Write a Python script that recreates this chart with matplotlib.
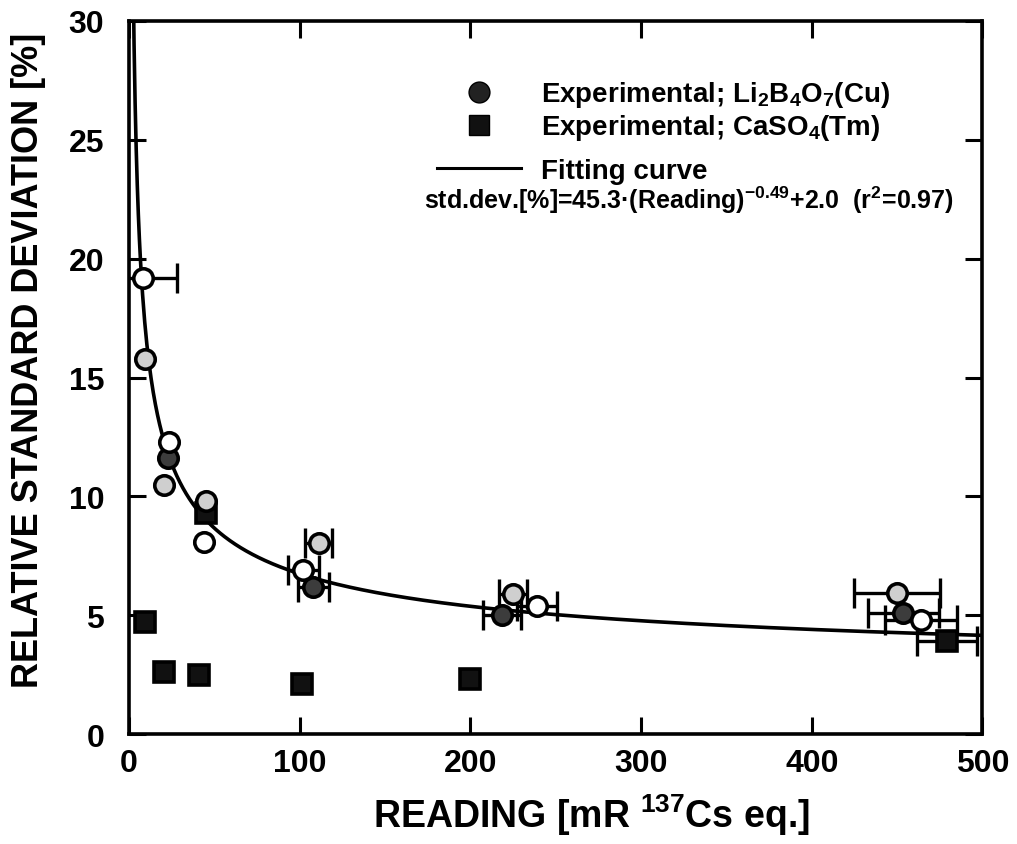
import numpy as np
import matplotlib
matplotlib.use("Agg")
import matplotlib.pyplot as plt
from matplotlib.lines import Line2D

plt.rcParams['font.family'] = ['Liberation Sans', 'DejaVu Sans']
plt.rcParams['font.weight'] = 'bold'
plt.rcParams['mathtext.fontset'] = 'custom'
plt.rcParams['mathtext.rm'] = 'Liberation Sans:bold'
plt.rcParams['mathtext.it'] = 'Liberation Sans:bold'
plt.rcParams['mathtext.bf'] = 'Liberation Sans:bold'

# ---- data ----
# Li2B4O7(Cu) circles, three fill styles
open_x = [8.2, 23.4, 44.0, 102.0, 239.0, 464.0]
open_y = [19.2, 12.3, 8.1, 6.9, 5.4, 4.8]
open_xerr = [20.0, 0.0, 0.0, 9.0, 12.0, 21.0]

gray_x = [9.4, 20.5, 45.0, 111.0, 225.0, 450.0]
gray_y = [15.8, 10.5, 9.8, 8.05, 5.9, 5.95]
gray_xerr = [0.0, 0.0, 0.0, 8.0, 8.0, 25.0]

dark_x = [22.9, 108.0, 218.6, 453.7]
dark_y = [11.6, 6.2, 5.0, 5.1]
dark_xerr = [0.0, 9.0, 11.0, 21.0]

# CaSO4(Tm) squares
sq_x = [9.4, 20.5, 41.0, 45.0, 101.0, 200.0, 479.0]
sq_y = [4.7, 2.6, 2.5, 9.3, 2.1, 2.3, 3.9]
sq_xerr = [0.0, 0.0, 0.0, 0.0, 0.0, 0.0, 17.6]

# fitting curve parameters: std.dev = A * Reading^B + C
fit_A, fit_B, fit_C = 45.3, -0.49, 2.0

x_ticks = [0, 100, 200, 300, 400, 500]
y_ticks = [0, 5, 10, 15, 20, 25, 30]

# ---- figure ----
fig = plt.figure(figsize=(10.17, 8.45), dpi=100)
ax = fig.add_axes([0.127, 0.130, 0.839, 0.844])

xc = np.linspace(1.0, 500, 800)
ax.plot(xc, fit_A * xc ** fit_B + fit_C, color='black', lw=2.6, zorder=2)

ms = 14
mew = 2.6


def series(x, y, xerr, marker, fc):
    x = np.asarray(x); y = np.asarray(y); xerr = np.asarray(xerr)
    m = xerr > 0
    if m.any():
        ax.errorbar(x[m], y[m], xerr=xerr[m], fmt='none', ecolor='black',
                    elinewidth=2.4, capsize=11, capthick=2.4, zorder=3)
    ax.plot(x, y, ls='none', marker=marker, ms=ms, mew=mew, mec='black',
            mfc=fc, zorder=4)


series(sq_x, sq_y, sq_xerr, 's', '#111111')
series(dark_x, dark_y, dark_xerr, 'o', '#3c3c3c')
series(gray_x, gray_y, gray_xerr, 'o', '#cfcfcf')
series(open_x, open_y, open_xerr, 'o', 'white')

ax.set_xlim(0, 500)
ax.set_ylim(0, 30)
ax.set_xticks(x_ticks)
ax.set_yticks(y_ticks)
ax.tick_params(direction='in', length=12, width=2.2, labelsize=23, top=True, right=True)
ax.tick_params(axis='y', pad=18)
ax.tick_params(axis='x', pad=10)
for s in ax.spines.values():
    s.set_linewidth(2.6)

ax.set_xlabel('READING [mR $^{137}$Cs eq.]', fontsize=27, fontweight='bold')
ax.set_ylabel('RELATIVE STANDARD DEVIATION [%]', fontsize=26, fontweight='bold')
ax.xaxis.set_label_coords(0.542, -0.080)
ax.yaxis.set_label_coords(-0.098, 0.525)

# legend
h1 = [Line2D([], [], marker='o', ls='none', color='black', mfc='#222222', ms=15),
      Line2D([], [], marker='s', ls='none', color='black', mfc='#111111', ms=14)]
leg1 = ax.legend(h1, ['Experimental; Li$_2$B$_4$O$_7$(Cu)', 'Experimental; CaSO$_4$(Tm)'],
                 loc='upper left', bbox_to_anchor=(0.361, 0.918), frameon=False,
                 borderpad=0, borderaxespad=0, handlelength=3.0, handletextpad=0.75,
                 labelspacing=0.1, prop={'size': 20, 'weight': 'bold'})
ax.add_artist(leg1)
h2 = [Line2D([], [], color='black', lw=2.2)]
ax.legend(h2, ['Fitting curve'], loc='upper left', bbox_to_anchor=(0.361, 0.808),
          frameon=False, borderpad=0, borderaxespad=0, handlelength=3.0,
          handletextpad=0.75, prop={'size': 20, 'weight': 'bold'})

ax.text(0.345, 0.750, 'std.dev.[%]=45.3·(Reading)$^{-0.49}$+2.0  (r$^2$=0.97)',
        transform=ax.transAxes, fontsize=18, fontweight='bold', va='center', ha='left')

fig.savefig('out.png', dpi=100)
